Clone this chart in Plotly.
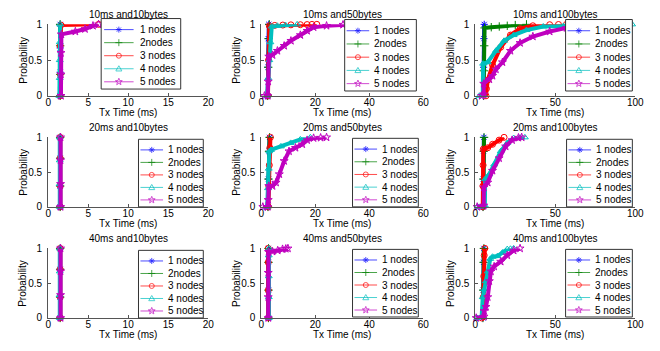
import math
import plotly.graph_objects as go

W, H = 660, 351

# ---------------- data ----------------
NODE_LABELS = ["1 nodes", "2nodes", "3 nodes", "4 nodes", "5 nodes"]
PANEL_TITLES = ["10ms and10bytes", "10ms and50bytes", "10ms and100bytes",
                "20ms and10bytes", "20ms and50bytes", "20ms and100bytes",
                "40ms and10bytes", "40ms and50bytes", "40ms and100bytes"]
X_MAX = [20, 60, 100]
X_TICKS = [[0, 5, 10, 15, 20], [0, 20, 40, 60], [0, 50, 100]]
Y_TICKS = [0, 0.5, 1]
Y_TICK_TEXT = ["0", "0.5", "1"]
X_TITLE = "Tx Time (ms)"
Y_TITLE = "Probability"

# 10 ms interval
tx_10ms_10B = [[1.5, 1.5, 1.5, 1.5],
               [1.5, 1.5, 1.5, 1.5],
               [1.5, 1.5, 1.5, 1.6, 6.3],
               [1.4, 1.45, 1.45, 1.45, 1.5],
               [1.6, 1.6, 1.6, 1.65, 3.4, 4.6, 5.6, 6.3]]
p_10ms_10B = [[0, 0.33, 0.67, 1.0],
              [0, 0.3, 0.7, 1.0],
              [0, 0.3, 0.7, 0.99, 1.0],
              [0, 0.25, 0.5, 0.75, 1.0],
              [0, 0.3, 0.6, 0.86, 0.9, 0.935, 0.98, 1.0]]

tx_10ms_50B = [[2.4, 2.5, 2.6, 2.8],
               [2.4, 2.6, 2.8, 3.0],
               [2.5, 2.7, 3.0, 5, 8, 11, 14.5, 17, 18.8, 20.6],
               [2.2, 2.6, 3.0, 3.4, 3.9, 6, 9, 13.3],
               [1.2, 2.4, 2.6, 2.8, 4.2, 6, 8.5, 11, 14.5, 17, 19.4, 24.2, 30.3, 35]]
p_10ms_50B = [[0, 0.4, 0.8, 1.0],
              [0, 0.4, 0.8, 1.0],
              [0, 0.5, 0.98, 0.985, 0.99, 0.993, 0.995, 0.997, 0.999, 1.0],
              [0, 0.25, 0.5, 0.75, 0.97, 0.98, 0.99, 1.0],
              [0, 0, 0.2, 0.55, 0.57, 0.63, 0.7, 0.77, 0.85, 0.91, 0.96, 0.98, 0.995, 1.0]]

tx_10ms_100B = [[5.0, 5.2, 5.4, 5.6],
                [5.2, 5.4, 5.6, 5.8, 10, 15, 20, 25, 32],
                [6.7, 7.0, 7.8, 10.8, 15.9, 22, 28, 36, 46.5, 52, 57],
                [2.6, 4.7, 4.9, 7.8, 12.9, 18, 24, 32, 42.5, 55, 70, 85, 98],
                [4.0, 5.3, 5.3, 8.8, 10.8, 12.9, 17, 22, 28, 36, 46.5, 57, 62]]
p_10ms_100B = [[0, 0.4, 0.8, 1.0],
               [0, 0.35, 0.7, 0.95, 0.96, 0.97, 0.98, 0.99, 1.0],
               [0, 0.1, 0.22, 0.43, 0.68, 0.85, 0.94, 0.98, 0.995, 0.998, 1.0],
               [0, 0.02, 0.45, 0.47, 0.63, 0.77, 0.85, 0.92, 0.97, 0.975, 0.985, 0.99, 1.0],
               [0, 0.02, 0.17, 0.23, 0.28, 0.37, 0.47, 0.63, 0.74, 0.83, 0.9, 0.95, 1.0]]

# 20 ms interval
tx_20ms_10B = [[1.5, 1.5, 1.5, 1.5],
               [1.5, 1.5, 1.5, 1.5],
               [1.5, 1.5, 1.5, 1.5],
               [1.45, 1.45, 1.45, 1.45],
               [1.55, 1.55, 1.55, 1.55]]
p_20ms_10B = [[0, 0.3, 0.7, 1.0],
              [0, 0.3, 0.7, 1.0],
              [0, 0.3, 0.7, 1.0],
              [0, 0.33, 0.67, 1.0],
              [0, 0.33, 0.67, 1.0]]

tx_20ms_50B = [[2.5, 2.7, 2.9, 3.1],
               [2.5, 2.7, 2.9, 3.1],
               [2.6, 2.8, 3.0, 3.2, 3.4],
               [2.2, 2.5, 2.8, 3.0, 3.6, 7.3, 10.9, 14.5, 18.2],
               [0.6, 2.4, 2.6, 2.8, 4.2, 5.5, 6.7, 8.5, 10.3, 12.7, 15.2, 17, 19.4, 22, 24.2]]
p_20ms_50B = [[0, 0.4, 0.8, 1.0],
              [0, 0.4, 0.8, 1.0],
              [0, 0.3, 0.6, 0.85, 1.0],
              [0, 0.27, 0.55, 0.8, 0.82, 0.87, 0.92, 0.97, 1.0],
              [0, 0, 0.1, 0.3, 0.3, 0.35, 0.47, 0.66, 0.8, 0.85, 0.9, 0.96, 0.99, 0.995, 1.0]]

tx_20ms_100B = [[4.8, 5.0, 5.2, 5.4],
                [4.9, 5.1, 5.3, 5.5],
                [4.7, 4.8, 4.9, 5.0, 7.8, 10.8, 14.9, 18],
                [1.6, 6.0, 6.2, 8.8, 11.8, 15.9, 20, 24, 28, 31],
                [1.2, 5.3, 5.4, 7.8, 10.8, 14.9, 19, 23, 27, 29]]
p_20ms_100B = [[0, 0.4, 0.8, 1.0],
               [0, 0.4, 0.8, 1.0],
               [0, 0.3, 0.6, 0.83, 0.85, 0.9, 0.96, 1.0],
               [0, 0.02, 0.4, 0.47, 0.61, 0.8, 0.92, 0.99, 0.995, 1.0],
               [0, 0.02, 0.28, 0.35, 0.52, 0.7, 0.87, 0.96, 0.995, 1.0]]

# 40 ms interval
tx_40ms_10B = [[1.5, 1.5, 1.5, 1.5],
               [1.5, 1.5, 1.5, 1.5],
               [1.5, 1.5, 1.5, 1.5],
               [1.45, 1.45, 1.45, 1.45],
               [1.55, 1.55, 1.55, 1.55]]
p_40ms_10B = [[0, 0.3, 0.7, 1.0],
              [0, 0.3, 0.7, 1.0],
              [0, 0.3, 0.7, 1.0],
              [0, 0.33, 0.67, 1.0],
              [0, 0.33, 0.67, 1.0]]

tx_40ms_50B = [[2.7, 2.7, 2.7, 2.7],
               [2.7, 2.7, 2.7, 2.7],
               [2.6, 2.6, 2.6, 2.6],
               [2.8, 2.8, 2.8, 2.8, 2.9],
               [2.6, 2.6, 2.6, 2.7, 4.2, 6.1, 7.9, 9.1, 9.9]]
p_40ms_50B = [[0, 0.4, 0.8, 1.0],
              [0, 0.4, 0.8, 1.0],
              [0, 0.4, 0.8, 1.0],
              [0, 0.3, 0.6, 0.9, 1.0],
              [0, 0.3, 0.65, 0.95, 0.955, 0.97, 0.99, 0.995, 1.0]]

tx_40ms_100B = [[4.8, 5.0, 5.2, 5.4],
                [4.8, 5.0, 5.2, 5.4],
                [4.0, 4.7, 5.0, 5.3, 5.6, 6.0],
                [1.2, 4.0, 4.7, 5.7, 6.7, 7.8, 9.4, 10.8, 13.9, 17, 20, 22, 24],
                [0.6, 5.5, 5.6, 6.7, 7.8, 8.8, 9.8, 11.8, 15.9, 20, 24, 28]]
p_40ms_100B = [[0, 0.4, 0.8, 1.0],
               [0, 0.4, 0.8, 1.0],
               [0, 0.02, 0.3, 0.6, 0.9, 1.0],
               [0, 0.02, 0.3, 0.41, 0.53, 0.67, 0.85, 0.88, 0.89, 0.94, 0.99, 0.995, 1.0],
               [0, 0.02, 0.1, 0.16, 0.3, 0.53, 0.67, 0.74, 0.81, 0.9, 0.97, 1.0]]

PANEL_X = [tx_10ms_10B, tx_10ms_50B, tx_10ms_100B,
           tx_20ms_10B, tx_20ms_50B, tx_20ms_100B,
           tx_40ms_10B, tx_40ms_50B, tx_40ms_100B]
PANEL_P = [p_10ms_10B, p_10ms_50B, p_10ms_100B,
           p_20ms_10B, p_20ms_50B, p_20ms_100B,
           p_40ms_10B, p_40ms_50B, p_40ms_100B]

# ---------------- styles / layout ----------------
COLORS = ["#0000ff", "#008000", "#ff0000", "#00bfbf", "#bf00bf"]
SYMBOLS = ["asterisk-open", "cross-thin-open", "circle-open", "triangle-up-open", "star-open"]
FONT = "Arial, 'Liberation Sans', Helvetica, sans-serif"
AXCOL = "#555555"

COL_PX = [(46, 209), (263, 428), (481, 644)]
ROW_PX = [(19, 93), (136, 208), (251, 323)]
# legend boxes in pixels: x0, y0, x1, y1, line start offset, line end offset, text offset
LEG_PX = [(100, 13, 181, 86, 3, 33, 37),
          (348, 14, 421, 88, 2, 25, 28),
          (573, 14, 641, 88, 2, 25, 28),
          (138, 138, 204, 208, 2, 25, 28),
          (356, 137, 423, 208, 2, 25, 28),
          (574, 138, 641, 208, 2, 25, 28),
          (138, 253, 204, 323, 2, 25, 28),
          (356, 252, 423, 322, 2, 25, 28),
          (573, 252, 641, 322, 2, 25, 28)]


def fx(px):
    return px / W


def fy(py):
    return 1 - py / H


def star_path(ro=3.6, ri=1.5):
    pts = []
    for k in range(10):
        r = ro if k % 2 == 0 else ri
        a = math.pi / 2 + k * math.pi / 5
        pts.append((r * math.cos(a), r * math.sin(a)))
    return "M" + "L".join(f"{x:.2f},{y:.2f}" for x, y in pts) + "Z"


MARKER_PATHS = [
    "M-3,0H3M0,-3V3M-2.1,-2.1L2.1,2.1M-2.1,2.1L2.1,-2.1",
    "M-3.5,0H3.5M0,-3.5V3.5",
    None,
    "M0,3L3,-2.2L-3,-2.2Z",
    star_path(),
]

fig = go.Figure()
layout = dict(width=W, height=H, margin=dict(l=0, r=0, t=0, b=0),
              paper_bgcolor="white", plot_bgcolor="white",
              showlegend=False, font=dict(family=FONT, size=10, color="black"))
shapes = []
annotations = []

for i in range(9):
    r, c = divmod(i, 3)
    n = i + 1
    xs = "" if n == 1 else str(n)
    (cx0, cx1), (ry0, ry1) = COL_PX[c], ROW_PX[r]
    layout[f"xaxis{xs}"] = dict(
        domain=[fx(cx0), fx(cx1)], anchor=f"y{xs}", range=[0, X_MAX[c]],
        tickvals=X_TICKS[c], showline=True, linecolor=AXCOL, linewidth=1,
        ticks="inside", ticklen=3, tickcolor=AXCOL, showgrid=False,
        zeroline=False, tickfont=dict(size=10, color="black"), fixedrange=True,
        ticklabelstandoff=-3)
    layout[f"yaxis{xs}"] = dict(
        domain=[fy(ry1), fy(ry0)], anchor=f"x{xs}", range=[0, 1],
        tickvals=Y_TICKS, ticktext=Y_TICK_TEXT, showline=True, linecolor=AXCOL,
        linewidth=1, ticks="inside", ticklen=3, tickcolor=AXCOL, showgrid=False,
        zeroline=False, tickfont=dict(size=10, color="black"), fixedrange=True,
        ticklabelstandoff=3)

    for k in range(5):
        fig.add_trace(go.Scatter(
            x=PANEL_X[i][k], y=PANEL_P[i][k], xaxis=f"x{xs}", yaxis=f"y{xs}",
            mode="lines+markers", name=NODE_LABELS[k], cliponaxis=False,
            line=dict(color=COLORS[k], width=4),
            marker=dict(symbol=SYMBOLS[k], size=6, color=COLORS[k],
                        line=dict(color=COLORS[k], width=1))))

    # titles
    xc = fx((cx0 + cx1) / 2)
    annotations.append(dict(text=PANEL_TITLES[i], x=xc, y=fy(ry0 - 10.5), xref="paper", yref="paper",
                            showarrow=False, xanchor="center", yanchor="middle", font=dict(size=10)))
    annotations.append(dict(text=X_TITLE, x=xc, y=fy(ry1 + 17), xref="paper", yref="paper",
                            showarrow=False, xanchor="center", yanchor="middle", font=dict(size=10)))
    annotations.append(dict(text=Y_TITLE, x=fx(cx0 - 26), y=fy((ry0 + ry1) / 2), xref="paper",
                            yref="paper", showarrow=False, textangle=-90, xanchor="center",
                            yanchor="middle", font=dict(size=10)))

    # legend
    lx0, ly0, lx1, ly1, ls, le, lt = LEG_PX[i]
    hgt = ly1 - ly0
    shapes.append(dict(type="rect", xref="paper", yref="paper", x0=fx(lx0), x1=fx(lx1),
                       y0=fy(ly1), y1=fy(ly0), fillcolor="white",
                       line=dict(color="#333333", width=1), layer="above"))
    for k in range(5):
        yy = ly0 + 0.157 * hgt + k * 0.185 * hgt
        shapes.append(dict(type="line", xref="paper", yref="paper", x0=fx(lx0 + ls), x1=fx(lx0 + le),
                           y0=fy(yy), y1=fy(yy), line=dict(color=COLORS[k], width=1),
                           opacity=0.7, layer="above"))
        mx = fx(lx0 + (ls + le) / 2)
        if MARKER_PATHS[k] is None:
            shapes.append(dict(type="circle", xref="paper", yref="paper", xsizemode="pixel",
                               ysizemode="pixel", xanchor=mx, yanchor=fy(yy), x0=-2.5, x1=2.5,
                               y0=-2.5, y1=2.5, line=dict(color=COLORS[k], width=1),
                               opacity=0.7, layer="above"))
        else:
            shapes.append(dict(type="path", xref="paper", yref="paper", xsizemode="pixel",
                               ysizemode="pixel", xanchor=mx, yanchor=fy(yy), path=MARKER_PATHS[k],
                               line=dict(color=COLORS[k], width=1), opacity=0.7, layer="above"))
        annotations.append(dict(text=NODE_LABELS[k], x=fx(lx0 + lt), y=fy(yy), xref="paper",
                                yref="paper", showarrow=False, xanchor="left", yanchor="middle",
                                font=dict(size=10, color="black")))

layout["shapes"] = shapes
layout["annotations"] = annotations
fig.update_layout(**layout)
fig.write_html("out.html")
